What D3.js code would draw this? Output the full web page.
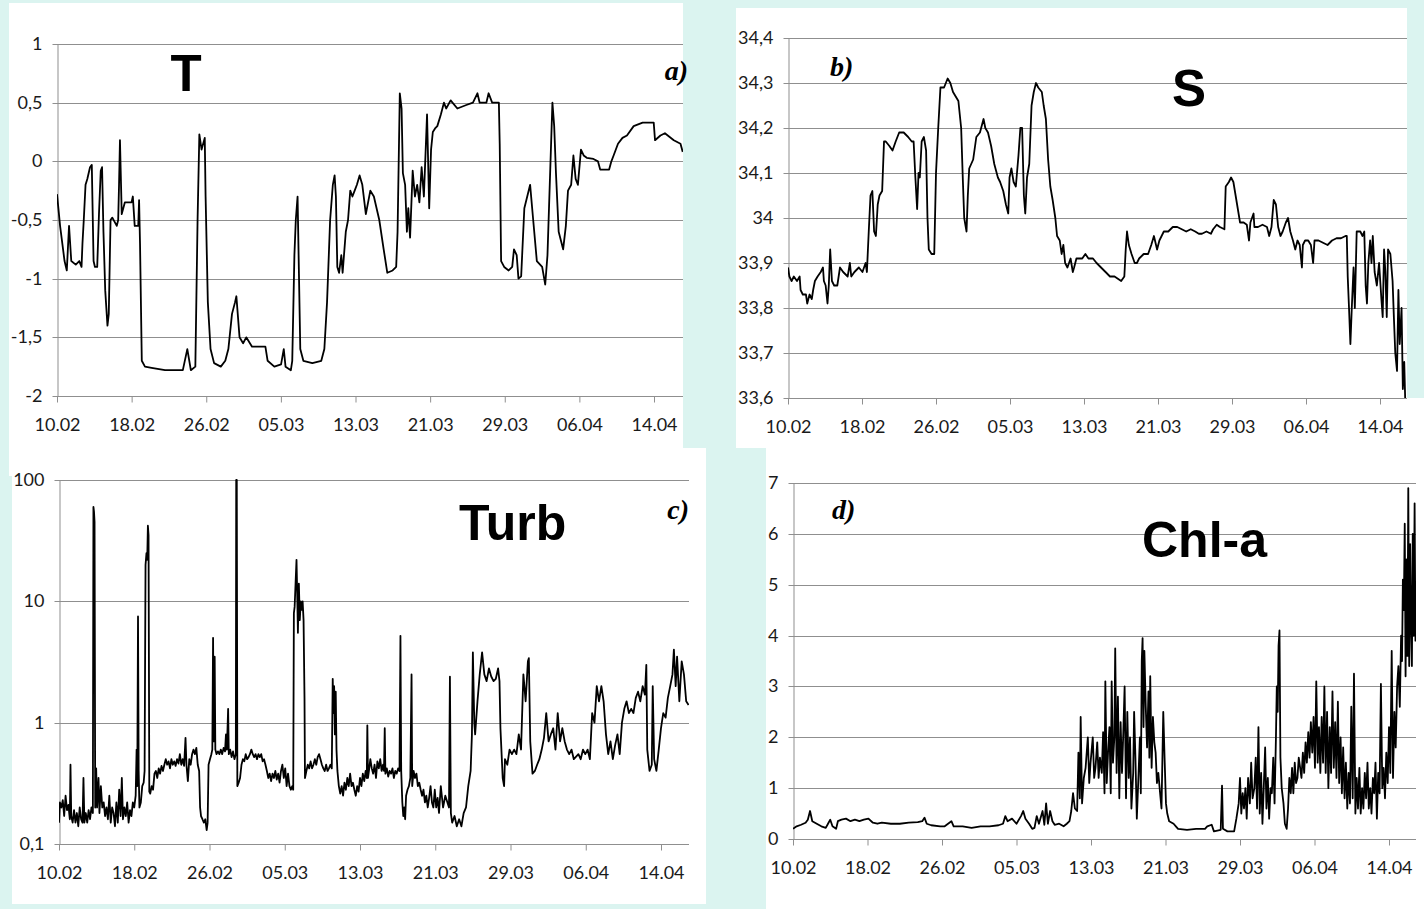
<!DOCTYPE html>
<html>
<head>
<meta charset="utf-8">
<script src="https://cdn.jsdelivr.net/npm/d3@7"></script>
<style>
  body { margin: 0; background: #dbf4f0; }
  svg { display: block; }
  .tick text { font-family: Lato, "Open Sans", sans-serif; font-size: 18px; fill: #1a1a1a; }
  .tick line, .domain { stroke: #8f8f8f; }
</style>
</head>
<body>
<div id="chart"></div>
<script>
// x axis labels (Excel style, every 8 days); 2012 is a leap year so 26.02 + 8 = 05.03
const dateTicks = ["10.02", "18.02", "26.02", "05.03", "13.03", "21.03", "29.03", "06.04", "14.04"];
const year = 2012;

const tempTicks = [1, 0.5, 0, -0.5, -1, -1.5, -2];
const salTicks = [34.4, 34.3, 34.2, 34.1, 34.0, 33.9, 33.8, 33.7, 33.6];
const turbTicks = [100, 10, 1, 0.1];
const chlTicks = [7, 6, 5, 4, 3, 2, 1, 0];

// [days since 10.02, value]
const temperature = [
  [0, -0.28], [0.33, -0.55], [0.81, -0.85], [1.05, -0.93], [1.29, -0.55], [1.53, -0.85], [2.01, -0.88], [2.39, -0.85],
  [2.63, -0.9], [2.73, -0.7], [2.87, -0.5], [3.06, -0.2], [3.25, -0.15], [3.54, -0.05], [3.73, -0.03], [3.92, -0.85],
  [4.07, -0.9], [4.31, -0.9], [4.5, -0.45], [4.69, -0.08], [4.83, -0.05], [4.98, -0.6], [5.17, -1.1], [5.41, -1.4],
  [5.55, -1.3], [5.74, -0.5], [5.93, -0.48], [6.41, -0.55], [6.56, -0.5], [6.65, -0.2], [6.75, 0.18], [6.94, -0.45],
  [7.27, -0.35], [7.99, -0.35], [8.13, -0.3], [8.33, -0.55], [8.71, -0.55], [8.8, -0.33], [8.9, -0.7], [9.09, -1.7],
  [9.43, -1.75], [10.14, -1.76], [11.58, -1.78], [13.49, -1.78], [13.97, -1.6], [14.35, -1.78], [14.83, -1.75],
  [15.07, -0.5], [15.26, 0.23], [15.5, 0.1], [15.84, 0.2], [15.93, -0.3], [16.17, -1.2], [16.46, -1.6], [16.84, -1.72],
  [17.56, -1.75], [18.04, -1.7], [18.37, -1.6], [18.76, -1.3], [19.09, -1.2], [19.23, -1.15], [19.57, -1.5],
  [19.95, -1.55], [20.29, -1.5], [20.91, -1.58], [22.34, -1.58], [22.58, -1.7], [23.3, -1.75], [24.02, -1.73],
  [24.31, -1.6], [24.5, -1.75], [25.07, -1.78], [25.22, -1.7], [25.45, -0.8], [25.6, -0.5], [25.79, -0.3],
  [26.08, -1.6], [26.41, -1.7], [27.37, -1.72], [28.33, -1.7], [28.66, -1.6], [28.95, -1.2], [29.28, -0.5],
  [29.57, -0.2], [29.76, -0.12], [29.9, -0.3], [30.05, -0.9], [30.24, -0.95], [30.48, -0.8], [30.62, -0.95],
  [30.96, -0.6], [31.2, -0.5], [31.44, -0.25], [31.67, -0.3], [31.91, -0.25], [32.15, -0.2], [32.44, -0.12],
  [32.73, -0.2], [33.11, -0.45], [33.59, -0.25], [33.97, -0.3], [34.55, -0.5], [35.02, -0.75], [35.41, -0.95],
  [35.98, -0.93], [36.36, -0.9], [36.51, -0.6], [36.75, 0.58], [36.94, 0.45], [37.08, -0.1], [37.32, -0.2],
  [37.51, -0.6], [37.66, -0.4], [37.85, -0.65], [38.13, -0.08], [38.37, -0.3], [38.61, -0.2], [38.85, -0.35],
  [39.09, -0.05], [39.33, -0.3], [39.67, 0.4], [39.9, -0.4], [40.1, 0.1], [40.29, 0.25], [40.53, 0.28], [40.77, 0.3],
  [41.15, 0.4], [41.48, 0.5], [41.72, 0.45], [42.2, 0.52], [42.92, 0.45], [43.88, 0.48], [44.59, 0.5], [45.07, 0.58],
  [45.31, 0.5], [46.03, 0.5], [46.27, 0.58], [46.65, 0.5], [47.37, 0.5], [47.46, 0.15], [47.61, -0.85], [47.94, -0.9],
  [48.42, -0.93], [48.8, -0.9], [48.99, -0.75], [49.28, -0.8], [49.47, -1.0], [49.76, -0.98], [50.1, -0.4],
  [50.72, -0.2], [51.05, -0.5], [51.44, -0.85], [52.01, -0.9], [52.34, -1.05], [52.58, -0.8], [53.11, 0.5],
  [53.3, 0.3], [53.49, -0.1], [53.78, -0.6], [54.26, -0.75], [54.55, -0.55], [54.78, -0.25], [55.12, -0.2],
  [55.36, 0.05], [55.6, -0.15], [55.84, -0.2], [56.17, 0.1], [56.46, 0.05], [56.79, 0.03], [57.51, 0.02], [57.99, 0.0],
  [58.23, -0.07], [59.19, -0.07], [59.43, 0.0], [59.67, 0.05], [60.14, 0.15], [60.62, 0.2], [61.1, 0.22], [61.82, 0.3],
  [62.78, 0.33], [63.97, 0.33], [64.11, 0.18], [64.69, 0.22], [65.17, 0.24], [66.12, 0.18], [66.84, 0.15], [67.08, 0.08]
];

const salinity = [
  [0, 33.89], [0.15, 33.87], [0.39, 33.86], [0.63, 33.87], [0.97, 33.86], [1.26, 33.87], [1.36, 33.84], [1.6, 33.83],
  [1.94, 33.83], [2.08, 33.81], [2.33, 33.83], [2.57, 33.82], [2.72, 33.84], [2.91, 33.86], [3.2, 33.87], [3.54, 33.88],
  [3.78, 33.89], [3.88, 33.86], [4.07, 33.85], [4.27, 33.81], [4.41, 33.85], [4.56, 33.93], [4.75, 33.86], [4.99, 33.85],
  [5.33, 33.85], [5.62, 33.89], [5.96, 33.88], [6.45, 33.87], [6.69, 33.9], [6.84, 33.87], [7.18, 33.88], [7.66, 33.89],
  [8.05, 33.88], [8.39, 33.9], [8.53, 33.88], [8.73, 33.97], [8.92, 34.05], [9.12, 34.06], [9.31, 33.97], [9.5, 33.96],
  [9.7, 34.03], [9.89, 34.05], [10.18, 34.06], [10.38, 34.17], [10.57, 34.17], [10.96, 34.16], [11.3, 34.15],
  [11.64, 34.17], [12.02, 34.19], [12.51, 34.19], [12.99, 34.18], [13.38, 34.17], [13.58, 34.17], [13.77, 34.09],
  [13.96, 34.02], [14.11, 34.1], [14.25, 34.09], [14.45, 34.17], [14.69, 34.18], [14.93, 34.15], [15.08, 34.0],
  [15.22, 33.93], [15.52, 33.92], [15.81, 33.92], [16.0, 34.1], [16.24, 34.2], [16.48, 34.29], [16.87, 34.29],
  [17.26, 34.31], [17.55, 34.3], [17.84, 34.28], [18.13, 34.27], [18.42, 34.26], [18.72, 34.2], [18.91, 34.08],
  [19.05, 34.0], [19.3, 33.97], [19.44, 34.05], [19.59, 34.11], [20.02, 34.13], [20.36, 34.18], [20.75, 34.19],
  [21.14, 34.22], [21.33, 34.2], [21.62, 34.19], [21.96, 34.16], [22.3, 34.12], [22.69, 34.09], [22.93, 34.08],
  [23.27, 34.06], [23.56, 34.03], [23.81, 34.01], [23.95, 34.09], [24.15, 34.11], [24.39, 34.08], [24.63, 34.07],
  [24.92, 34.14], [25.12, 34.2], [25.31, 34.2], [25.5, 34.05], [25.65, 34.01], [25.84, 34.09], [26.08, 34.12],
  [26.33, 34.25], [26.57, 34.28], [26.81, 34.3], [27.05, 34.29], [27.44, 34.28], [27.64, 34.25], [27.88, 34.22],
  [28.12, 34.13], [28.36, 34.07], [28.61, 34.04], [28.9, 34.0], [29.09, 33.96], [29.38, 33.95], [29.58, 33.92],
  [29.77, 33.94], [29.96, 33.9], [30.21, 33.89], [30.55, 33.91], [30.79, 33.88], [30.93, 33.89], [31.18, 33.91],
  [31.81, 33.91], [32.15, 33.92], [32.48, 33.91], [32.97, 33.91], [33.36, 33.9], [33.84, 33.89], [34.33, 33.88],
  [34.81, 33.87], [35.3, 33.87], [36.02, 33.86], [36.36, 33.87], [36.51, 33.93], [36.65, 33.97], [36.85, 33.94],
  [37.14, 33.92], [37.48, 33.9], [37.72, 33.9], [37.96, 33.91], [38.45, 33.92], [38.93, 33.92], [39.27, 33.94],
  [39.56, 33.96], [39.9, 33.93], [40.15, 33.95], [40.63, 33.97], [41.11, 33.97], [41.6, 33.98], [42.08, 33.98],
  [42.57, 33.975], [43.05, 33.97], [43.54, 33.975], [44.02, 33.97], [44.41, 33.965], [44.75, 33.965], [45.24, 33.97],
  [45.72, 33.965], [45.96, 33.975], [46.35, 33.985], [46.69, 33.98], [47.18, 33.975], [47.32, 34.07], [47.66, 34.08],
  [47.9, 34.09], [48.15, 34.08], [48.39, 34.05], [48.63, 34.02], [48.87, 33.99], [49.26, 33.99], [49.6, 33.985],
  [49.84, 33.95], [49.99, 33.99], [50.33, 34.01], [50.42, 33.98], [50.81, 33.98], [51.3, 33.985], [51.78, 33.98],
  [52.02, 33.96], [52.27, 33.98], [52.51, 34.04], [52.75, 34.03], [52.99, 33.98], [53.24, 33.96], [53.48, 33.97],
  [53.82, 33.99], [54.06, 34.0], [54.3, 33.97], [54.59, 33.95], [54.84, 33.93], [55.08, 33.95], [55.32, 33.94],
  [55.56, 33.89], [55.66, 33.94], [55.9, 33.95], [56.24, 33.95], [56.53, 33.94], [56.77, 33.9], [56.92, 33.95],
  [57.35, 33.95], [57.84, 33.945], [58.33, 33.94], [58.81, 33.95], [59.3, 33.955], [59.78, 33.955], [60.27, 33.96],
  [60.41, 33.96], [60.51, 33.87], [60.65, 33.8], [60.8, 33.72], [60.95, 33.8], [61.14, 33.89], [61.28, 33.8],
  [61.48, 33.97], [61.87, 33.97], [62.11, 33.96], [62.3, 33.97], [62.45, 33.85], [62.59, 33.81], [62.74, 33.9],
  [62.93, 33.95], [63.08, 33.9], [63.22, 33.96], [63.42, 33.88], [63.66, 33.85], [63.9, 33.9], [64.15, 33.82],
  [64.29, 33.78], [64.44, 33.93], [64.58, 33.88], [64.73, 33.78], [64.87, 33.93], [65.12, 33.92], [65.36, 33.86],
  [65.5, 33.78], [65.65, 33.7], [65.84, 33.66], [65.99, 33.84], [66.13, 33.72], [66.33, 33.8], [66.47, 33.62],
  [66.62, 33.68], [66.72, 33.6]
];

const turbidity = [
  [0, 0.15], [0.1, 0.22], [0.25, 0.2], [0.4, 0.23], [0.55, 0.17], [0.7, 0.25], [0.85, 0.19], [1.0, 0.21], [1.15, 0.16],
  [1.22, 0.45], [1.3, 0.17], [1.45, 0.15], [1.6, 0.19], [1.75, 0.15], [1.9, 0.18], [2.05, 0.14], [2.2, 0.2], [2.35, 0.16],
  [2.5, 0.15], [2.6, 0.35], [2.7, 0.15], [2.85, 0.18], [3.0, 0.15], [3.15, 0.19], [3.3, 0.16], [3.45, 0.2], [3.6, 0.18],
  [3.66, 60], [3.72, 55], [3.78, 45], [3.85, 0.2], [3.95, 0.42], [4.05, 0.2], [4.2, 0.35], [4.3, 0.18], [4.45, 0.3],
  [4.6, 0.2], [4.75, 0.22], [4.9, 0.17], [5.05, 0.2], [5.2, 0.16], [5.35, 0.25], [5.5, 0.15], [5.65, 0.2], [5.8, 0.18],
  [5.95, 0.14], [6.1, 0.22], [6.25, 0.15], [6.4, 0.28], [6.55, 0.17], [6.68, 0.35], [6.8, 0.16], [6.95, 0.2], [7.1, 0.17],
  [7.25, 0.22], [7.4, 0.15], [7.55, 0.19], [7.7, 0.17], [7.85, 0.22], [8.0, 0.2], [8.15, 0.25], [8.25, 0.6], [8.32, 0.3],
  [8.4, 7.5], [8.47, 0.4], [8.55, 0.2], [8.7, 0.22], [8.85, 0.3], [9.0, 0.32], [9.1, 0.4], [9.2, 20], [9.3, 25],
  [9.38, 22], [9.45, 42], [9.52, 35], [9.6, 0.27], [9.7, 0.26], [9.85, 0.3], [10.0, 0.28], [10.15, 0.38], [10.3, 0.4],
  [10.45, 0.35], [10.6, 0.42], [10.75, 0.38], [10.9, 0.44], [11.05, 0.4], [11.2, 0.45], [11.35, 0.5], [11.5, 0.45],
  [11.65, 0.48], [11.8, 0.42], [11.95, 0.5], [12.1, 0.45], [12.25, 0.48], [12.4, 0.44], [12.55, 0.5], [12.7, 0.46],
  [12.85, 0.55], [13.0, 0.45], [13.15, 0.5], [13.3, 0.44], [13.45, 0.75], [13.55, 0.45], [13.7, 0.33], [13.85, 0.5],
  [14.0, 0.45], [14.15, 0.55], [14.3, 0.6], [14.45, 0.55], [14.6, 0.62], [14.75, 0.45], [14.9, 0.4], [15.0, 0.2],
  [15.1, 0.17], [15.25, 0.16], [15.4, 0.15], [15.55, 0.16], [15.7, 0.13], [15.8, 0.15], [15.9, 0.45], [16.05, 0.5],
  [16.2, 0.55], [16.3, 0.6], [16.38, 5.0], [16.45, 0.7], [16.55, 3.5], [16.62, 0.6], [16.75, 0.55], [16.9, 0.58],
  [17.05, 0.55], [17.2, 0.6], [17.35, 0.55], [17.5, 0.62], [17.65, 0.58], [17.75, 0.8], [17.85, 0.6], [17.98, 1.3],
  [18.05, 0.55], [18.2, 0.6], [18.35, 0.52], [18.5, 0.58], [18.65, 0.5], [18.8, 0.55], [18.84, 100], [18.9, 100],
  [18.96, 0.3], [19.1, 0.32], [19.25, 0.35], [19.4, 0.45], [19.55, 0.5], [19.7, 0.48], [19.85, 0.55], [20.0, 0.5],
  [20.15, 0.52], [20.3, 0.55], [20.45, 0.6], [20.6, 0.55], [20.75, 0.52], [20.9, 0.55], [21.05, 0.5], [21.2, 0.55],
  [21.35, 0.52], [21.5, 0.55], [21.65, 0.48], [21.8, 0.5], [21.95, 0.45], [22.1, 0.4], [22.25, 0.35], [22.4, 0.38],
  [22.55, 0.33], [22.7, 0.38], [22.85, 0.35], [23.0, 0.4], [23.15, 0.34], [23.3, 0.38], [23.45, 0.32], [23.6, 0.4],
  [23.75, 0.45], [23.9, 0.35], [24.05, 0.42], [24.2, 0.3], [24.35, 0.38], [24.5, 0.3], [24.65, 0.28], [24.8, 0.3],
  [24.9, 0.28], [24.97, 8], [25.05, 9], [25.15, 14], [25.25, 22], [25.32, 12], [25.4, 5.5], [25.5, 14], [25.6, 7],
  [25.7, 10], [25.8, 8.5], [25.9, 10], [26.0, 7], [26.1, 1.6], [26.15, 0.35], [26.3, 0.4], [26.45, 0.45], [26.6, 0.42],
  [26.75, 0.48], [26.9, 0.42], [27.05, 0.45], [27.2, 0.5], [27.35, 0.45], [27.5, 0.52], [27.65, 0.55], [27.8, 0.5],
  [27.95, 0.45], [28.1, 0.42], [28.25, 0.4], [28.4, 0.45], [28.55, 0.4], [28.7, 0.42], [28.85, 0.45], [29.0, 0.42],
  [29.1, 2.3], [29.18, 1.2], [29.25, 2.0], [29.33, 0.8], [29.42, 1.8], [29.5, 0.6], [29.6, 0.4], [29.75, 0.3],
  [29.9, 0.26], [30.05, 0.3], [30.2, 0.25], [30.35, 0.32], [30.5, 0.28], [30.65, 0.35], [30.8, 0.3], [30.95, 0.38],
  [31.1, 0.3], [31.25, 0.32], [31.4, 0.28], [31.55, 0.25], [31.7, 0.3], [31.85, 0.27], [32.0, 0.35], [32.15, 0.3],
  [32.3, 0.38], [32.45, 0.33], [32.6, 0.4], [32.72, 0.35], [32.78, 0.95], [32.85, 0.35], [32.95, 0.4], [33.1, 0.5],
  [33.25, 0.42], [33.4, 0.38], [33.55, 0.45], [33.7, 0.35], [33.85, 0.48], [34.0, 0.42], [34.15, 0.5], [34.3, 0.4],
  [34.45, 0.45], [34.55, 0.4], [34.63, 0.9], [34.7, 0.38], [34.85, 0.42], [35.0, 0.36], [35.15, 0.4], [35.3, 0.38],
  [35.45, 0.42], [35.6, 0.35], [35.75, 0.4], [35.9, 0.38], [36.05, 0.42], [36.2, 0.4], [36.3, 5.2], [36.38, 0.4],
  [36.5, 0.22], [36.6, 0.17], [36.7, 0.2], [36.8, 0.16], [36.9, 0.25], [37.05, 0.28], [37.2, 0.3], [37.35, 0.35],
  [37.48, 2.5], [37.55, 0.3], [37.7, 0.4], [37.85, 0.35], [38.0, 0.38], [38.15, 0.3], [38.3, 0.32], [38.45, 0.28],
  [38.6, 0.25], [38.75, 0.28], [38.9, 0.22], [39.05, 0.25], [39.2, 0.2], [39.35, 0.24], [39.5, 0.3], [39.65, 0.22],
  [39.8, 0.2], [39.95, 0.28], [40.1, 0.2], [40.25, 0.24], [40.4, 0.18], [40.59, 0.3], [40.83, 0.2], [41.07, 0.25],
  [41.46, 0.2], [41.56, 2.4], [41.66, 0.18], [41.8, 0.15], [42.05, 0.17], [42.29, 0.14], [42.54, 0.16], [42.78, 0.14],
  [43.02, 0.18], [43.27, 0.2], [43.51, 0.3], [43.76, 0.4], [43.9, 0.8], [44.0, 3.8], [44.15, 1.0], [44.24, 0.8],
  [44.49, 1.5], [44.73, 2.5], [44.98, 3.8], [45.22, 2.5], [45.46, 2.2], [45.71, 2.8], [45.95, 2.4], [46.2, 2.2],
  [46.44, 2.3], [46.68, 2.8], [46.83, 2.2], [46.93, 0.9], [47.17, 0.35], [47.32, 0.3], [47.41, 0.5], [47.66, 0.45],
  [47.9, 0.6], [48.15, 0.55], [48.39, 0.6], [48.63, 0.55], [48.88, 0.8], [49.12, 0.6], [49.37, 2.5], [49.61, 1.5],
  [49.85, 3.2], [49.95, 3.4], [50.1, 0.7], [50.34, 0.38], [50.59, 0.4], [50.83, 0.45], [51.07, 0.5], [51.32, 0.6],
  [51.56, 0.75], [51.8, 1.2], [52.05, 0.7], [52.29, 0.8], [52.54, 0.9], [52.78, 0.6], [53.02, 1.2], [53.27, 0.7],
  [53.51, 0.9], [53.76, 0.7], [54.0, 0.6], [54.24, 0.55], [54.49, 0.6], [54.73, 0.5], [55.22, 0.55], [55.46, 0.5],
  [55.71, 0.6], [55.95, 0.55], [56.2, 0.6], [56.44, 0.5], [56.68, 1.2], [56.93, 1.0], [57.17, 2.0], [57.41, 1.5],
  [57.66, 2.0], [57.9, 1.5], [58.15, 0.8], [58.39, 0.55], [58.63, 0.7], [58.88, 0.5], [59.12, 0.65], [59.37, 0.8],
  [59.61, 0.55], [59.85, 1.0], [60.1, 1.3], [60.34, 1.5], [60.59, 1.2], [60.83, 1.3], [61.07, 1.2], [61.32, 1.6],
  [61.56, 1.8], [61.8, 1.5], [62.05, 2.0], [62.29, 1.7], [62.44, 3.0], [62.54, 0.6], [62.78, 0.4], [63.02, 0.45],
  [63.12, 2.0], [63.27, 0.5], [63.51, 0.4], [63.76, 0.6], [64.0, 0.9], [64.24, 1.2], [64.49, 1.1], [64.73, 1.6],
  [64.98, 2.0], [65.22, 2.5], [65.37, 4.0], [65.56, 2.0], [65.71, 3.5], [65.95, 1.5], [66.2, 3.2], [66.44, 2.5],
  [66.68, 1.5], [66.93, 1.4]
];

const chlorophyll = [
  [0, 0.2], [0.39, 0.25], [0.87, 0.28], [1.35, 0.32], [1.59, 0.38], [1.83, 0.55], [2.07, 0.35], [2.55, 0.3], [3.04, 0.25],
  [3.52, 0.22], [3.76, 0.3], [4.0, 0.38], [4.24, 0.25], [4.63, 0.2], [4.82, 0.35], [5.2, 0.38], [5.69, 0.4], [6.17, 0.35],
  [6.65, 0.38], [7.13, 0.35], [7.61, 0.38], [8.1, 0.4], [8.58, 0.32], [9.06, 0.3], [9.54, 0.32], [10.51, 0.3], [11.47, 0.3],
  [12.43, 0.32], [13.4, 0.33], [13.88, 0.35], [14.12, 0.42], [14.36, 0.3], [14.84, 0.27], [15.81, 0.25], [16.29, 0.25],
  [17.01, 0.35], [17.25, 0.25], [18.22, 0.25], [19.18, 0.22], [20.14, 0.25], [21.11, 0.25], [22.07, 0.27], [22.55, 0.3],
  [22.8, 0.45], [23.04, 0.35], [23.52, 0.4], [24.0, 0.3], [24.48, 0.45], [24.72, 0.55], [24.96, 0.4], [25.35, 0.3],
  [25.69, 0.2], [25.93, 0.22], [26.17, 0.45], [26.41, 0.3], [26.8, 0.55], [26.99, 0.28], [27.18, 0.7], [27.37, 0.3],
  [27.61, 0.55], [27.86, 0.35], [28.1, 0.28], [28.58, 0.3], [29.06, 0.25], [29.4, 0.3], [29.69, 0.35], [29.88, 0.55],
  [30.07, 0.9], [30.27, 0.6], [30.51, 0.55], [30.65, 1.7], [30.8, 0.8], [30.89, 2.4], [31.04, 0.7], [31.23, 1.2],
  [31.42, 1.4], [31.66, 2.0], [31.81, 1.1], [31.95, 1.5], [32.19, 2.0], [32.34, 1.2], [32.48, 1.4], [32.67, 1.9],
  [32.82, 1.2], [32.96, 1.6], [33.16, 1.3], [33.3, 2.1], [33.45, 0.9], [33.54, 3.1], [33.69, 1.1], [33.83, 1.7],
  [33.98, 2.2], [34.12, 0.9], [34.22, 3.1], [34.36, 1.5], [34.51, 2.0], [34.6, 3.75], [34.75, 1.3], [34.89, 2.8],
  [35.04, 0.8], [35.18, 2.3], [35.33, 1.3], [35.47, 2.1], [35.61, 3.0], [35.76, 0.8], [35.9, 2.5], [36.05, 1.2],
  [36.19, 2.0], [36.34, 0.6], [36.53, 1.3], [36.63, 2.5], [36.77, 1.6], [36.92, 0.4], [37.11, 1.3], [37.25, 2.0],
  [37.35, 0.9], [37.45, 3.5], [37.54, 3.95], [37.64, 2.2], [37.73, 3.7], [37.88, 2.6], [38.02, 1.8], [38.17, 2.9],
  [38.27, 1.6], [38.36, 3.2], [38.51, 1.4], [38.65, 2.4], [38.8, 1.9], [38.94, 1.7], [39.08, 1.1], [39.23, 1.3],
  [39.42, 0.9], [39.57, 0.6], [39.76, 2.5], [39.9, 1.6], [40.05, 0.7], [40.19, 0.5], [40.39, 0.35], [40.87, 0.3],
  [41.11, 0.25], [41.35, 0.2], [42.31, 0.18], [43.28, 0.2], [44.24, 0.2], [44.48, 0.25], [44.96, 0.28], [45.2, 0.15],
  [45.93, 0.18], [46.07, 1.05], [46.17, 0.2], [46.65, 0.15], [47.37, 0.15], [47.61, 0.4], [47.86, 0.7], [48.0, 1.2],
  [48.14, 0.5], [48.29, 0.9], [48.43, 0.6], [48.58, 1.0], [48.72, 0.4], [48.87, 1.2], [49.06, 0.7], [49.2, 1.5],
  [49.35, 0.8], [49.54, 1.0], [49.69, 1.6], [49.83, 0.6], [49.98, 2.2], [50.12, 0.5], [50.27, 1.3], [50.41, 0.3],
  [50.55, 1.0], [50.7, 1.8], [50.84, 0.6], [50.99, 1.2], [51.13, 0.4], [51.28, 1.0], [51.42, 0.9], [51.57, 1.6],
  [51.71, 0.7], [51.86, 2.0], [51.95, 3.0], [52.05, 2.5], [52.14, 3.8], [52.24, 4.1], [52.34, 1.6], [52.48, 1.0],
  [52.67, 0.7], [52.82, 0.3], [53.01, 0.2], [53.16, 0.6], [53.3, 1.2], [53.45, 0.9], [53.59, 1.4], [53.73, 0.9],
  [53.88, 1.5], [54.02, 1.1], [54.17, 1.2], [54.31, 1.6], [54.46, 1.4], [54.6, 1.2], [54.75, 1.7], [54.89, 1.3],
  [55.04, 1.9], [55.18, 1.5], [55.33, 2.1], [55.47, 1.6], [55.61, 2.3], [55.76, 1.7], [55.9, 2.4], [56.05, 1.4],
  [56.19, 3.1], [56.34, 1.5], [56.48, 2.2], [56.63, 1.3], [56.77, 2.4], [56.92, 1.5], [57.06, 3.0], [57.2, 1.3],
  [57.35, 2.5], [57.49, 1.0], [57.64, 2.2], [57.78, 1.3], [57.93, 2.9], [58.07, 1.4], [58.22, 2.3], [58.36, 1.2],
  [58.51, 2.7], [58.65, 1.1], [58.8, 2.0], [58.94, 0.9], [59.08, 1.8], [59.23, 0.8], [59.37, 1.5], [59.52, 0.6],
  [59.66, 1.3], [59.81, 0.7], [59.95, 2.6], [60.1, 0.8], [60.24, 3.25], [60.39, 0.5], [60.53, 1.2], [60.67, 0.6],
  [60.82, 1.4], [60.96, 0.5], [61.11, 1.0], [61.25, 0.6], [61.4, 1.3], [61.54, 0.8], [61.69, 1.5], [61.83, 0.6],
  [61.98, 1.0], [62.12, 0.5], [62.27, 1.2], [62.41, 0.9], [62.55, 1.5], [62.7, 0.4], [62.84, 1.3], [62.99, 0.9],
  [63.13, 3.05], [63.28, 1.0], [63.42, 1.4], [63.57, 0.8], [63.71, 1.7], [63.86, 1.1], [64.0, 2.2], [64.14, 1.3],
  [64.29, 3.7], [64.43, 1.2], [64.58, 2.5], [64.72, 1.8], [64.87, 3.0], [65.01, 3.4], [65.16, 2.6], [65.3, 4.0],
  [65.4, 3.5], [65.49, 5.1], [65.59, 4.5], [65.69, 6.2], [65.78, 3.2], [65.88, 5.5], [65.98, 3.6], [66.07, 6.9],
  [66.17, 3.4], [66.27, 5.8], [66.36, 4.3], [66.46, 3.4], [66.55, 6.0], [66.65, 4.0], [66.75, 6.6], [66.84, 3.9],
  [66.89, 5.0]
];

// Panel layout (pixel frames of the four pasted Excel charts)
const panels = [
  { box: [9, 3, 683, 476], left: 57, last: 654, right: 683, top: 44, bottom: 396,
    data: temperature, ticks: tempTicks, log: false,
    title: { text: "T", x: 186, y: 91, size: 51, anchor: "middle" },
    tag: { text: "a)", x: 688, y: 80, anchor: "end" } },
  { box: [736, 8, 1407, 448], left: 788, last: 1380, right: 1407, top: 38, bottom: 398,
    data: salinity, ticks: salTicks, log: false,
    title: { text: "S", x: 1189, y: 106, size: 51, anchor: "middle" },
    tag: { text: "b)", x: 830, y: 76, anchor: "start" } },
  { box: [12, 448, 706, 904], left: 59, last: 661, right: 689, top: 480, bottom: 844,
    data: turbidity, ticks: turbTicks, log: true,
    title: { text: "Turb", x: 459, y: 540, size: 50, anchor: "start" },
    tag: { text: "c)", x: 689, y: 519, anchor: "end" } },
  { box: [766, 398, 1424, 909], left: 793, last: 1389, right: 1416, top: 483, bottom: 839,
    data: chlorophyll, ticks: chlTicks, log: false,
    title: { text: "Chl-a", x: 1142, y: 557, size: 50, anchor: "start" },
    tag: { text: "d)", x: 832, y: 519, anchor: "start" } }
];

const locale = d3.formatLocale({ decimal: ",", thousands: " ", grouping: [3], currency: ["", ""], minus: "-" });
const numFmt = locale.format(".1~f");
const parseDate = d3.utcParse("%d.%m.%Y");
const tickDates = dateTicks.map(t => parseDate(`${t}.${year}`));
const start = tickDates[0];
const dayToDate = d => new Date(start.getTime() + d * 864e5);

const svg = d3.select("#chart").append("svg")
  .attr("width", 1424)
  .attr("height", 909);

// white chart backgrounds (panel d first, it sits under b)
[panels[3], panels[0], panels[2], panels[1]].forEach(p => {
  svg.append("rect")
    .attr("x", p.box[0]).attr("y", p.box[1])
    .attr("width", p.box[2] - p.box[0]).attr("height", p.box[3] - p.box[1])
    .attr("fill", "#fff");
});

panels.forEach((p, i) => {
  const g = svg.append("g");

  const x = d3.scaleUtc().domain([tickDates[0], tickDates[tickDates.length - 1]]).range([p.left, p.last]);
  const lo = p.ticks[p.ticks.length - 1], hi = p.ticks[0];
  const y = (p.log ? d3.scaleLog() : d3.scaleLinear()).domain([lo, hi]).range([p.bottom, p.top]);

  // horizontal gridlines, including the bottom one which is the x axis line
  g.append("g").selectAll("line")
    .data(p.ticks)
    .join("line")
      .attr("x1", p.left).attr("x2", p.right)
      .attr("y1", d => Math.round(y(d)) + 0.5).attr("y2", d => Math.round(y(d)) + 0.5)
      .attr("stroke", "#8f8f8f");

  // y axis
  g.append("g")
    .attr("transform", `translate(${p.left + 0.5},0)`)
    .call(d3.axisLeft(y).tickValues(p.ticks).tickFormat(numFmt).tickSize(5).tickSizeOuter(0).tickPadding(10))
    .call(a => a.selectAll(".tick").attr("transform", d => `translate(0,${Math.round(y(d)) + 0.5})`));

  // x axis (ticks and labels only)
  g.append("g")
    .attr("transform", `translate(0,${Math.round(p.bottom) + 0.5})`)
    .call(d3.axisBottom(x).tickValues(tickDates).tickFormat(d3.utcFormat("%d.%m")).tickSize(6).tickSizeOuter(0).tickPadding(16))
    .call(a => a.select(".domain").remove());

  // data line
  const clipId = `clip${i}`;
  svg.append("clipPath").attr("id", clipId)
    .append("rect")
      .attr("x", p.left).attr("y", p.top - 1)
      .attr("width", p.right - p.left).attr("height", p.bottom - p.top + 2);

  const line = d3.line()
    .x(d => x(dayToDate(d[0])))
    .y(d => y(d[1]));

  g.append("path")
    .datum(p.data)
    .attr("clip-path", `url(#${clipId})`)
    .attr("fill", "none")
    .attr("stroke", "#000")
    .attr("stroke-width", 1.8)
    .attr("stroke-linejoin", "round")
    .attr("d", line);

  // big variable name
  svg.append("text")
    .attr("x", p.title.x).attr("y", p.title.y)
    .attr("text-anchor", p.title.anchor)
    .style("font-family", "'Liberation Sans', Arial, sans-serif")
    .style("font-weight", "bold")
    .style("font-size", p.title.size + "px")
    .text(p.title.text);

  // panel letter
  svg.append("text")
    .attr("x", p.tag.x).attr("y", p.tag.y)
    .attr("text-anchor", p.tag.anchor)
    .style("font-family", "'Liberation Serif', 'Times New Roman', serif")
    .style("font-weight", "bold")
    .style("font-style", "italic")
    .style("font-size", "28px")
    .text(p.tag.text);
});
</script>
</body>
</html>
